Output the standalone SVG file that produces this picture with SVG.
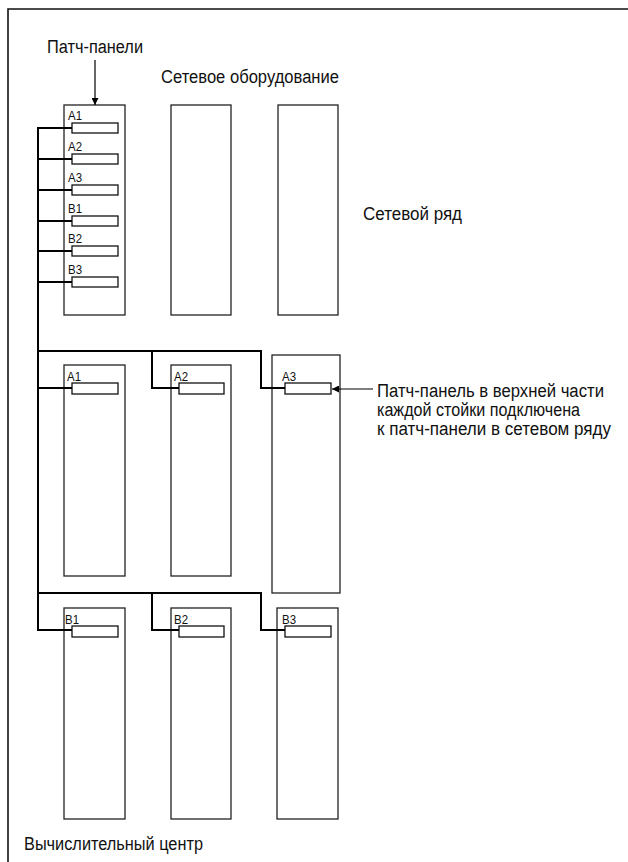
<svg xmlns="http://www.w3.org/2000/svg" width="628" height="862" viewBox="0 0 628 862">
<defs>
<style>
.rack{fill:#fff;stroke:#222;stroke-width:1.3}
.panel{fill:#fff;stroke:#111;stroke-width:1.3}
.cable{fill:none;stroke:#000;stroke-width:2}
.arr{fill:none;stroke:#000;stroke-width:1.2}
.t{font-family:"Liberation Sans Narrow","Liberation Sans",Arial,sans-serif;font-size:18px;fill:#111}
.lbl{font-family:"Liberation Sans Narrow","Liberation Sans",Arial,sans-serif;font-size:13.5px;fill:#111}
</style>
<marker id="ah" viewBox="0 0 10 10" refX="10" refY="5" markerWidth="7" markerHeight="7" markerUnits="userSpaceOnUse" orient="auto">
<path d="M0,0 L10,5 L0,10 Z" fill="#000"/>
</marker>
</defs>
<rect x="0" y="0" width="628" height="862" fill="#fff"/>
<g id="frame">
<path d="M8,862 V9 H628" fill="none" stroke="#111" stroke-width="1.6"/>
</g>
<g id="net-patch-rack">
<rect class="rack" x="64" y="105" width="61" height="210"/>
<rect class="panel" x="72" y="123" width="46" height="10"/>
<rect class="panel" x="72" y="154" width="46" height="10"/>
<rect class="panel" x="72" y="185" width="46" height="10"/>
<rect class="panel" x="72" y="216" width="46" height="10"/>
<rect class="panel" x="72" y="246" width="46" height="10"/>
<rect class="panel" x="72" y="277" width="46" height="10"/>
<text class="lbl" x="68" y="120" textLength="14" lengthAdjust="spacingAndGlyphs">A1</text>
<text class="lbl" x="68" y="151" textLength="14" lengthAdjust="spacingAndGlyphs">A2</text>
<text class="lbl" x="68" y="182" textLength="14" lengthAdjust="spacingAndGlyphs">A3</text>
<text class="lbl" x="68" y="213" textLength="14" lengthAdjust="spacingAndGlyphs">B1</text>
<text class="lbl" x="68" y="243" textLength="14" lengthAdjust="spacingAndGlyphs">B2</text>
<text class="lbl" x="68" y="274" textLength="14" lengthAdjust="spacingAndGlyphs">B3</text>
</g>
<g id="net-rack-2"><rect class="rack" x="171" y="105" width="60" height="210"/></g>
<g id="net-rack-3"><rect class="rack" x="278" y="105" width="60" height="210"/></g>
<g id="rack-A1">
<rect class="rack" x="64" y="365" width="61" height="211"/>
<rect class="panel" x="72" y="383" width="46" height="11"/>
<text class="lbl" x="67" y="381" textLength="14" lengthAdjust="spacingAndGlyphs">A1</text>
</g>
<g id="rack-A2">
<rect class="rack" x="171" y="365" width="60" height="211"/>
<rect class="panel" x="179" y="383" width="45" height="11"/>
<text class="lbl" x="174" y="381" textLength="14" lengthAdjust="spacingAndGlyphs">A2</text>
</g>
<g id="rack-A3">
<rect class="rack" x="272" y="355" width="68" height="238"/>
<rect class="panel" x="285" y="383" width="46" height="11"/>
<text class="lbl" x="282" y="381" textLength="14" lengthAdjust="spacingAndGlyphs">A3</text>
</g>
<g id="rack-B1">
<rect class="rack" x="64" y="608" width="61" height="211"/>
<rect class="panel" x="72" y="626" width="46" height="11"/>
<text class="lbl" x="65" y="624" textLength="14" lengthAdjust="spacingAndGlyphs">B1</text>
</g>
<g id="rack-B2">
<rect class="rack" x="171" y="608" width="60" height="211"/>
<rect class="panel" x="179" y="626" width="45" height="11"/>
<text class="lbl" x="174" y="624" textLength="14" lengthAdjust="spacingAndGlyphs">B2</text>
</g>
<g id="rack-B3">
<rect class="rack" x="277" y="608" width="61" height="211"/>
<rect class="panel" x="285" y="626" width="46" height="11"/>
<text class="lbl" x="282" y="624" textLength="14" lengthAdjust="spacingAndGlyphs">B3</text>
</g>
<g id="connectors">
<path class="cable" d="M72,128 H38 V630 H72"/>
<path class="cable" d="M38,159 H72 M38,190 H72 M38,221 H72 M38,251 H72 M38,282 H72"/>
<path class="cable" d="M38,351 H261 V388 H285 M152,351 V388 H179 M38,388 H72"/>
<path class="cable" d="M38,593 H261 V630 H285 M152,593 V630 H179"/>
<line class="arr" x1="95" y1="60" x2="95" y2="105" marker-end="url(#ah)"/>
<line class="arr" x1="373" y1="389" x2="332" y2="389" marker-end="url(#ah)"/>
</g>
<g id="labels">
<text class="t" x="47" y="53" textLength="96" lengthAdjust="spacingAndGlyphs">Патч-панели</text>
<text class="t" x="161" y="83" textLength="178" lengthAdjust="spacingAndGlyphs">Сетевое оборудование</text>
<text class="t" x="363" y="220" textLength="99" lengthAdjust="spacingAndGlyphs">Сетевой ряд</text>
<text class="t" x="377" y="397" textLength="227" lengthAdjust="spacingAndGlyphs">Патч-панель в верхней части</text>
<text class="t" x="377" y="416" textLength="203" lengthAdjust="spacingAndGlyphs">каждой стойки подключена</text>
<text class="t" x="377" y="435" textLength="234" lengthAdjust="spacingAndGlyphs">к патч-панели в сетевом ряду</text>
<text class="t" x="24" y="850" textLength="179" lengthAdjust="spacingAndGlyphs">Вычислительный центр</text>
</g>
</svg>
